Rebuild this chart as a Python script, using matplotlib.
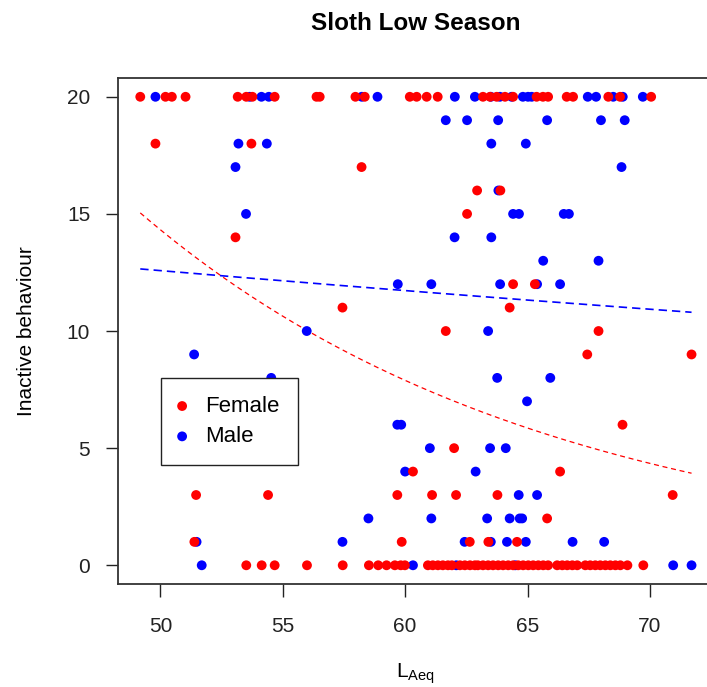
import numpy as np
import matplotlib.pyplot as plt

plt.rcParams['font.family'] = ['Liberation Sans', 'DejaVu Sans']

# inactive behaviour counts against L_Aeq, split by sex
female_laeq = [
    49.18, 50.21, 50.47, 51.03, 53.16, 53.51, 53.76, 54.67, 56.38, 56.51,
    57.97, 58.35, 60.19, 60.47, 60.88, 61.33, 63.18, 63.47, 63.74, 64.08,
    64.41, 65.37, 65.63, 65.84, 66.60, 66.86, 68.30, 68.78, 70.05,
    49.80, 53.72, 58.22, 62.94, 63.89, 62.53, 53.07, 64.41, 65.30,
    57.44, 64.27, 61.66, 67.90, 67.44, 71.70, 68.88, 62.00, 60.32, 66.33,
    51.46, 54.40, 59.68, 61.10, 62.08, 63.77, 70.93, 65.80,
    51.39, 59.86, 62.64, 63.40, 64.57,
    53.51, 54.14, 54.67, 55.99, 57.45, 58.52, 58.90, 59.24, 59.58, 59.82,
    59.99, 60.93, 61.13, 61.34, 61.54, 61.75, 61.91, 62.24, 62.44, 62.65,
    62.85, 62.97, 63.18, 63.39, 63.59, 63.80, 64.00, 64.21, 64.41, 64.62,
    64.82, 65.03, 65.23, 65.44, 65.64, 65.84, 66.21, 66.42, 66.62, 66.83,
    67.03, 67.36, 67.56, 67.77, 67.97, 68.18, 68.38, 68.59, 68.79, 69.08,
    69.73,
]
female_inactive = (
    [20] * 29
    + [18, 18, 17, 16, 16, 15, 14, 12, 12]
    + [11, 11, 10, 10, 9, 9, 6, 5, 4, 4]
    + [3, 3, 3, 3, 3, 3, 3, 2]
    + [1, 1, 1, 1, 1]
    + [0] * 51
)

male_laeq = [
    49.80, 53.65, 54.13, 54.43, 58.23, 58.87, 62.03, 62.85, 63.50, 63.87,
    64.35, 64.81, 65.02, 65.17, 67.46, 67.80, 68.50, 68.89, 69.71,
    61.66, 62.53, 63.80, 65.80, 68.00, 68.97,
    53.19, 54.35, 63.52, 64.93, 53.07, 68.84, 63.81,
    53.50, 64.41, 64.65, 66.48, 66.69, 62.02, 63.52, 65.64, 67.90,
    59.70, 61.07, 63.88, 65.39, 66.33, 55.98, 63.39, 51.38,
    54.53, 63.76, 65.93, 64.98, 59.68, 59.84, 61.01, 63.47, 64.11,
    60.00, 62.88, 64.64, 65.39,
    58.50, 61.07, 63.35, 64.27, 64.68, 64.78,
    51.48, 57.44, 62.43, 63.50, 64.16, 64.93, 66.84, 68.13,
    51.69, 60.32, 62.09, 64.50, 70.95, 71.70,
]
male_inactive = (
    [20] * 19
    + [19] * 6
    + [18, 18, 18, 18, 17, 17, 16]
    + [15, 15, 15, 15, 15, 14, 14, 13, 13]
    + [12, 12, 12, 12, 12, 10, 10, 9]
    + [8, 8, 8, 7, 6, 6, 5, 5, 5]
    + [4, 4, 3, 3]
    + [2] * 6
    + [1] * 8
    + [0] * 6
)

# poisson fits, log(mu) = a + b * LAeq
fit_female = (5.642, -0.0596)
fit_male = (2.883, -0.00702)

fig = plt.figure(figsize=(7.07, 6.87), dpi=100)
ax = fig.add_axes([0.1669, 0.1499, 0.8424, 0.7365])

ax.scatter(male_laeq, male_inactive, s=50, c='#0000ff', edgecolors='none',
           zorder=3, label='Male')
ax.scatter(female_laeq, female_inactive, s=50, c='#ff0000', edgecolors='none',
           zorder=3, label='Female')

all_x = female_laeq + male_laeq
xs = np.linspace(min(all_x), max(all_x), 200)
ax.plot(xs, np.exp(fit_female[0] + fit_female[1] * xs), color='#ff0000',
        lw=0.9, dashes=(4, 3), zorder=2)
ax.plot(xs, np.exp(fit_male[0] + fit_male[1] * xs), color='#0000ff',
        lw=1.2, dashes=(5, 3), zorder=2)

ax.set_xlim(48.27, 72.6)
ax.set_ylim(-0.8, 20.8)
ax.set_xticks([50, 55, 60, 65, 70])
ax.set_yticks([0, 5, 10, 15, 20])
ax.tick_params(axis='x', length=9, width=1, pad=15, labelsize=15, colors='#222222')
ax.tick_params(axis='y', length=9, width=1, pad=11, labelsize=15, colors='#222222')
for sp in ax.spines.values():
    sp.set_color('#333333')
    sp.set_linewidth(1.3)

fig.text(0.588, 0.966, 'Sloth Low Season', ha='center', va='center',
         fontsize=17.5, fontweight='bold')
fig.text(0.588, 0.02, r'$\mathregular{L_{Aeq}}$', ha='center', va='center',
         fontsize=15)
fig.text(0.037, 0.518, 'Inactive behaviour', ha='center', va='center',
         rotation=90, fontsize=15)

handles, labels = ax.get_legend_handles_labels()
leg = ax.legend(handles[::-1], labels[::-1], loc='upper left',
                bbox_to_anchor=(0.0722, 0.407), borderaxespad=0,
                fontsize=16, frameon=True, fancybox=False, framealpha=1,
                edgecolor='#222222', handlelength=0.3, handletextpad=0.9,
                borderpad=0.8, labelspacing=0.42, scatterpoints=1,
                markerscale=1.0)
leg.get_frame().set_linewidth(1.0)

fig.savefig('out.png', dpi=100)
